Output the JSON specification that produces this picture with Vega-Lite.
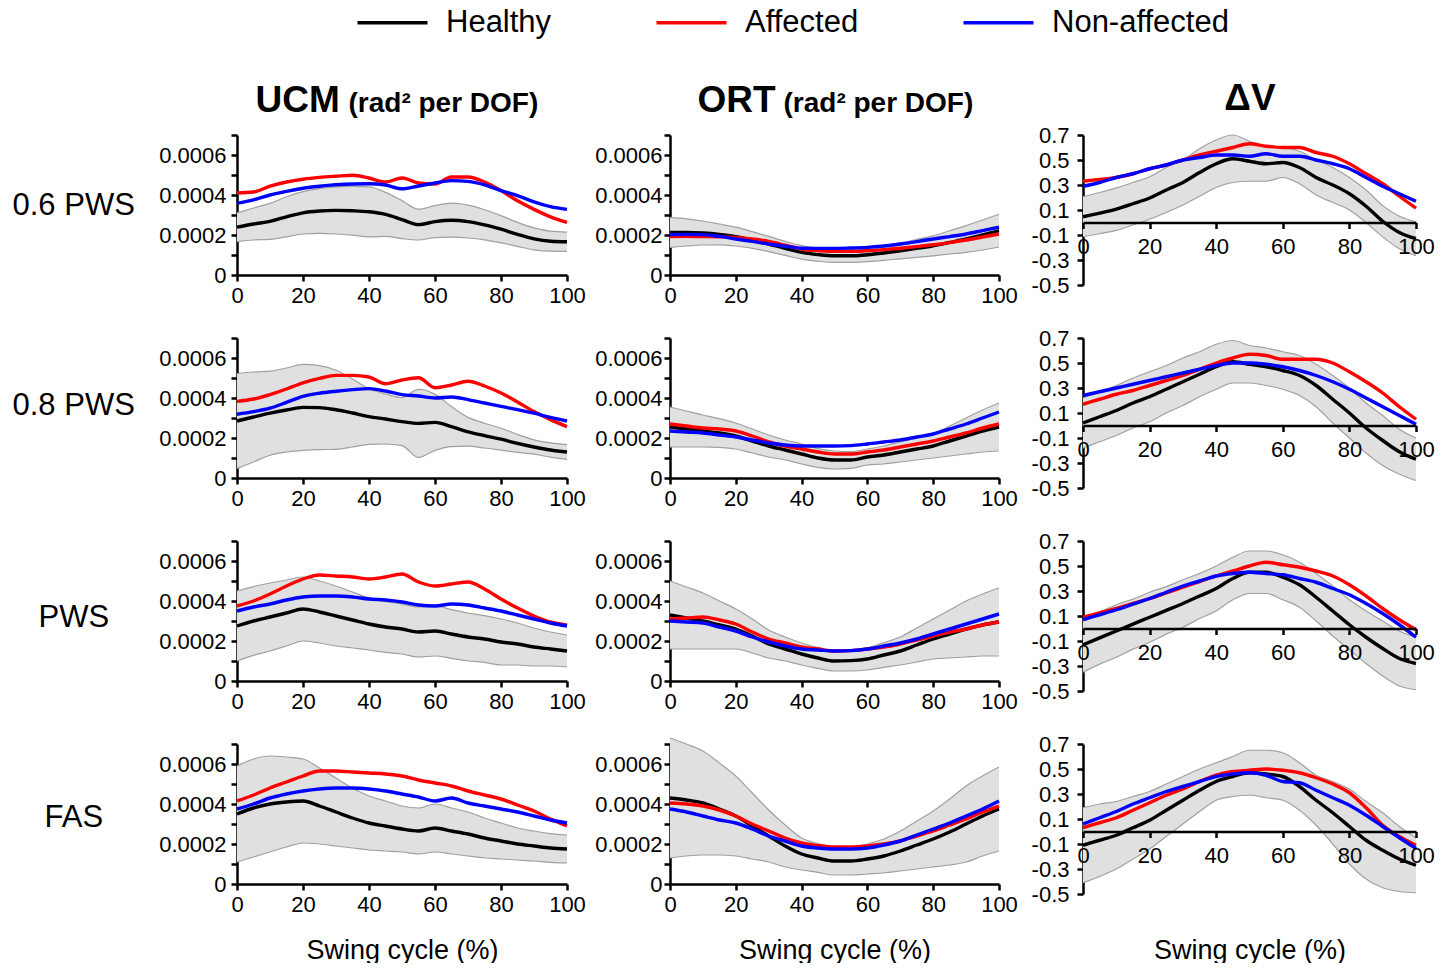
{
"$schema": "https://vega.github.io/schema/vega-lite/v6.json",
"background": "white",
"padding": {"left": 12, "top": 7, "right": 0, "bottom": 0},
"datasets": {
"u1": [
{"x":0,"H":2.39e-4,"sd":0.72e-4,"A":4.10e-4,"N":3.59e-4},
{"x":5,"H":2.55e-4,"sd":0.80e-4,"A":4.15e-4,"N":3.76e-4},
{"x":10,"H":2.68e-4,"sd":0.90e-4,"A":4.44e-4,"N":4.00e-4},
{"x":15,"H":2.91e-4,"sd":1.00e-4,"A":4.65e-4,"N":4.18e-4},
{"x":20,"H":3.11e-4,"sd":1.06e-4,"A":4.79e-4,"N":4.34e-4},
{"x":25,"H":3.20e-4,"sd":1.12e-4,"A":4.88e-4,"N":4.44e-4},
{"x":30,"H":3.23e-4,"sd":1.18e-4,"A":4.94e-4,"N":4.51e-4},
{"x":35,"H":3.21e-4,"sd":1.22e-4,"A":4.99e-4,"N":4.55e-4},
{"x":40,"H":3.16e-4,"sd":1.25e-4,"A":4.85e-4,"N":4.56e-4},
{"x":45,"H":3.03e-4,"sd":1.10e-4,"A":4.65e-4,"N":4.50e-4},
{"x":50,"H":2.77e-4,"sd":0.95e-4,"A":4.85e-4,"N":4.31e-4},
{"x":55,"H":2.52e-4,"sd":0.77e-4,"A":4.60e-4,"N":4.45e-4},
{"x":60,"H":2.67e-4,"sd":0.80e-4,"A":4.55e-4,"N":4.60e-4},
{"x":65,"H":2.74e-4,"sd":0.85e-4,"A":4.90e-4,"N":4.72e-4},
{"x":70,"H":2.67e-4,"sd":0.82e-4,"A":4.90e-4,"N":4.68e-4},
{"x":75,"H":2.51e-4,"sd":0.75e-4,"A":4.65e-4,"N":4.51e-4},
{"x":80,"H":2.29e-4,"sd":0.68e-4,"A":4.22e-4,"N":4.22e-4},
{"x":85,"H":2.03e-4,"sd":0.60e-4,"A":3.71e-4,"N":3.97e-4},
{"x":90,"H":1.81e-4,"sd":0.55e-4,"A":3.28e-4,"N":3.66e-4},
{"x":95,"H":1.69e-4,"sd":0.50e-4,"A":2.91e-4,"N":3.42e-4},
{"x":100,"H":1.66e-4,"sd":0.48e-4,"A":2.63e-4,"N":3.28e-4}
],
"o1": [
{"x":0,"H":2.13e-4,"sd":0.75e-4,"A":1.92e-4,"N":2.02e-4},
{"x":5,"H":2.13e-4,"sd":0.68e-4,"A":1.93e-4,"N":2.03e-4},
{"x":10,"H":2.10e-4,"sd":0.60e-4,"A":1.92e-4,"N":2.02e-4},
{"x":15,"H":2.03e-4,"sd":0.52e-4,"A":1.91e-4,"N":1.93e-4},
{"x":20,"H":1.92e-4,"sd":0.47e-4,"A":1.88e-4,"N":1.80e-4},
{"x":25,"H":1.75e-4,"sd":0.42e-4,"A":1.80e-4,"N":1.68e-4},
{"x":30,"H":1.55e-4,"sd":0.38e-4,"A":1.68e-4,"N":1.55e-4},
{"x":35,"H":1.33e-4,"sd":0.35e-4,"A":1.49e-4,"N":1.44e-4},
{"x":40,"H":1.13e-4,"sd":0.34e-4,"A":1.29e-4,"N":1.34e-4},
{"x":45,"H":1.02e-4,"sd":0.33e-4,"A":1.22e-4,"N":1.33e-4},
{"x":50,"H":0.96e-4,"sd":0.33e-4,"A":1.18e-4,"N":1.33e-4},
{"x":55,"H":0.96e-4,"sd":0.33e-4,"A":1.18e-4,"N":1.35e-4},
{"x":60,"H":1.01e-4,"sd":0.34e-4,"A":1.21e-4,"N":1.38e-4},
{"x":65,"H":1.10e-4,"sd":0.37e-4,"A":1.27e-4,"N":1.45e-4},
{"x":70,"H":1.21e-4,"sd":0.40e-4,"A":1.34e-4,"N":1.55e-4},
{"x":75,"H":1.33e-4,"sd":0.45e-4,"A":1.42e-4,"N":1.67e-4},
{"x":80,"H":1.46e-4,"sd":0.50e-4,"A":1.51e-4,"N":1.80e-4},
{"x":85,"H":1.63e-4,"sd":0.58e-4,"A":1.62e-4,"N":1.92e-4},
{"x":90,"H":1.80e-4,"sd":0.67e-4,"A":1.75e-4,"N":2.05e-4},
{"x":95,"H":2.00e-4,"sd":0.75e-4,"A":1.90e-4,"N":2.22e-4},
{"x":100,"H":2.22e-4,"sd":0.82e-4,"A":2.05e-4,"N":2.39e-4}
],
"v1": [
{"x":0,"H":0.046,"sd":0.16,"A":0.33,"N":0.29},
{"x":5,"H":0.075,"sd":0.165,"A":0.345,"N":0.32},
{"x":10,"H":0.107,"sd":0.17,"A":0.36,"N":0.36},
{"x":15,"H":0.15,"sd":0.17,"A":0.39,"N":0.39},
{"x":20,"H":0.196,"sd":0.17,"A":0.43,"N":0.43},
{"x":25,"H":0.26,"sd":0.18,"A":0.46,"N":0.46},
{"x":30,"H":0.32,"sd":0.18,"A":0.50,"N":0.50},
{"x":35,"H":0.40,"sd":0.19,"A":0.54,"N":0.52},
{"x":40,"H":0.47,"sd":0.19,"A":0.57,"N":0.54},
{"x":45,"H":0.51,"sd":0.19,"A":0.60,"N":0.54},
{"x":50,"H":0.49,"sd":0.16,"A":0.63,"N":0.53},
{"x":55,"H":0.47,"sd":0.14,"A":0.61,"N":0.55},
{"x":60,"H":0.48,"sd":0.12,"A":0.60,"N":0.53},
{"x":65,"H":0.44,"sd":0.13,"A":0.60,"N":0.53},
{"x":70,"H":0.36,"sd":0.14,"A":0.56,"N":0.50},
{"x":75,"H":0.30,"sd":0.14,"A":0.53,"N":0.47},
{"x":80,"H":0.23,"sd":0.13,"A":0.47,"N":0.43},
{"x":85,"H":0.13,"sd":0.13,"A":0.39,"N":0.36},
{"x":90,"H":0.01,"sd":0.125,"A":0.31,"N":0.29},
{"x":95,"H":-0.08,"sd":0.13,"A":0.21,"N":0.23},
{"x":100,"H":-0.13,"sd":0.135,"A":0.115,"N":0.17}
],
"u2": [
{"x":0,"H":2.85e-4,"sd":2.37e-4,"A":3.83e-4,"N":3.19e-4},
{"x":5,"H":3.05e-4,"sd":2.25e-4,"A":3.95e-4,"N":3.32e-4},
{"x":10,"H":3.24e-4,"sd":2.10e-4,"A":4.17e-4,"N":3.49e-4},
{"x":15,"H":3.40e-4,"sd":2.10e-4,"A":4.45e-4,"N":3.78e-4},
{"x":20,"H":3.53e-4,"sd":2.15e-4,"A":4.76e-4,"N":4.08e-4},
{"x":25,"H":3.52e-4,"sd":2.10e-4,"A":4.98e-4,"N":4.24e-4},
{"x":30,"H":3.41e-4,"sd":1.98e-4,"A":5.13e-4,"N":4.34e-4},
{"x":35,"H":3.25e-4,"sd":1.70e-4,"A":5.13e-4,"N":4.42e-4},
{"x":40,"H":3.07e-4,"sd":1.39e-4,"A":5.05e-4,"N":4.47e-4},
{"x":45,"H":2.95e-4,"sd":1.25e-4,"A":4.71e-4,"N":4.35e-4},
{"x":50,"H":2.82e-4,"sd":1.20e-4,"A":4.90e-4,"N":4.17e-4},
{"x":55,"H":2.73e-4,"sd":1.70e-4,"A":5.01e-4,"N":4.10e-4},
{"x":60,"H":2.78e-4,"sd":1.40e-4,"A":4.51e-4,"N":4.00e-4},
{"x":65,"H":2.57e-4,"sd":1.00e-4,"A":4.65e-4,"N":4.05e-4},
{"x":70,"H":2.31e-4,"sd":0.72e-4,"A":4.84e-4,"N":3.92e-4},
{"x":75,"H":2.12e-4,"sd":0.62e-4,"A":4.60e-4,"N":3.75e-4},
{"x":80,"H":1.94e-4,"sd":0.55e-4,"A":4.25e-4,"N":3.58e-4},
{"x":85,"H":1.73e-4,"sd":0.45e-4,"A":3.80e-4,"N":3.42e-4},
{"x":90,"H":1.55e-4,"sd":0.36e-4,"A":3.32e-4,"N":3.24e-4},
{"x":95,"H":1.40e-4,"sd":0.36e-4,"A":2.92e-4,"N":3.03e-4},
{"x":100,"H":1.30e-4,"sd":0.37e-4,"A":2.57e-4,"N":2.85e-4}
],
"o2": [
{"x":0,"H":2.55e-4,"sd":1.00e-4,"A":2.70e-4,"N":2.35e-4},
{"x":5,"H":2.45e-4,"sd":0.90e-4,"A":2.60e-4,"N":2.30e-4},
{"x":10,"H":2.35e-4,"sd":0.80e-4,"A":2.50e-4,"N":2.25e-4},
{"x":15,"H":2.25e-4,"sd":0.72e-4,"A":2.45e-4,"N":2.15e-4},
{"x":20,"H":2.10e-4,"sd":0.65e-4,"A":2.35e-4,"N":2.05e-4},
{"x":25,"H":1.85e-4,"sd":0.60e-4,"A":2.10e-4,"N":1.90e-4},
{"x":30,"H":1.60e-4,"sd":0.55e-4,"A":1.80e-4,"N":1.75e-4},
{"x":35,"H":1.40e-4,"sd":0.50e-4,"A":1.60e-4,"N":1.65e-4},
{"x":40,"H":1.20e-4,"sd":0.50e-4,"A":1.45e-4,"N":1.60e-4},
{"x":45,"H":1.00e-4,"sd":0.47e-4,"A":1.30e-4,"N":1.60e-4},
{"x":50,"H":0.90e-4,"sd":0.45e-4,"A":1.20e-4,"N":1.60e-4},
{"x":55,"H":0.90e-4,"sd":0.42e-4,"A":1.20e-4,"N":1.62e-4},
{"x":60,"H":1.05e-4,"sd":0.40e-4,"A":1.30e-4,"N":1.70e-4},
{"x":65,"H":1.15e-4,"sd":0.45e-4,"A":1.40e-4,"N":1.80e-4},
{"x":70,"H":1.30e-4,"sd":0.50e-4,"A":1.55e-4,"N":1.90e-4},
{"x":75,"H":1.45e-4,"sd":0.55e-4,"A":1.70e-4,"N":2.05e-4},
{"x":80,"H":1.60e-4,"sd":0.60e-4,"A":1.85e-4,"N":2.20e-4},
{"x":85,"H":1.85e-4,"sd":0.75e-4,"A":2.05e-4,"N":2.45e-4},
{"x":90,"H":2.10e-4,"sd":0.90e-4,"A":2.25e-4,"N":2.70e-4},
{"x":95,"H":2.35e-4,"sd":1.05e-4,"A":2.50e-4,"N":3.00e-4},
{"x":100,"H":2.55e-4,"sd":1.20e-4,"A":2.70e-4,"N":3.30e-4}
],
"v2": [
{"x":0,"H":0.02,"sd":0.20,"A":0.17,"N":0.24},
{"x":5,"H":0.07,"sd":0.20,"A":0.21,"N":0.27},
{"x":10,"H":0.12,"sd":0.20,"A":0.25,"N":0.30},
{"x":15,"H":0.18,"sd":0.20,"A":0.28,"N":0.33},
{"x":20,"H":0.23,"sd":0.20,"A":0.32,"N":0.36},
{"x":25,"H":0.29,"sd":0.19,"A":0.36,"N":0.39},
{"x":30,"H":0.35,"sd":0.19,"A":0.40,"N":0.42},
{"x":35,"H":0.41,"sd":0.18,"A":0.45,"N":0.45},
{"x":40,"H":0.47,"sd":0.18,"A":0.50,"N":0.48},
{"x":45,"H":0.51,"sd":0.17,"A":0.54,"N":0.50},
{"x":50,"H":0.49,"sd":0.15,"A":0.57,"N":0.50},
{"x":55,"H":0.47,"sd":0.15,"A":0.56,"N":0.49},
{"x":60,"H":0.44,"sd":0.15,"A":0.53,"N":0.47},
{"x":65,"H":0.40,"sd":0.16,"A":0.53,"N":0.44},
{"x":70,"H":0.32,"sd":0.17,"A":0.53,"N":0.40},
{"x":75,"H":0.21,"sd":0.19,"A":0.50,"N":0.35},
{"x":80,"H":0.10,"sd":0.20,"A":0.43,"N":0.29},
{"x":85,"H":-0.02,"sd":0.20,"A":0.35,"N":0.22},
{"x":90,"H":-0.12,"sd":0.20,"A":0.26,"N":0.15},
{"x":95,"H":-0.21,"sd":0.18,"A":0.15,"N":0.08},
{"x":100,"H":-0.27,"sd":0.17,"A":0.05,"N":0.01}
],
"u3": [
{"x":0,"H":2.75e-4,"sd":1.75e-4,"A":3.75e-4,"N":3.50e-4},
{"x":5,"H":3.00e-4,"sd":1.72e-4,"A":4.00e-4,"N":3.70e-4},
{"x":10,"H":3.20e-4,"sd":1.70e-4,"A":4.35e-4,"N":3.85e-4},
{"x":15,"H":3.40e-4,"sd":1.65e-4,"A":4.75e-4,"N":4.05e-4},
{"x":20,"H":3.60e-4,"sd":1.60e-4,"A":5.10e-4,"N":4.20e-4},
{"x":25,"H":3.45e-4,"sd":1.55e-4,"A":5.30e-4,"N":4.25e-4},
{"x":30,"H":3.25e-4,"sd":1.50e-4,"A":5.25e-4,"N":4.25e-4},
{"x":35,"H":3.05e-4,"sd":1.40e-4,"A":5.20e-4,"N":4.20e-4},
{"x":40,"H":2.85e-4,"sd":1.30e-4,"A":5.10e-4,"N":4.10e-4},
{"x":45,"H":2.70e-4,"sd":1.27e-4,"A":5.20e-4,"N":4.05e-4},
{"x":50,"H":2.60e-4,"sd":1.25e-4,"A":5.35e-4,"N":3.95e-4},
{"x":55,"H":2.45e-4,"sd":1.25e-4,"A":4.95e-4,"N":3.80e-4},
{"x":60,"H":2.50e-4,"sd":1.25e-4,"A":4.75e-4,"N":3.75e-4},
{"x":65,"H":2.35e-4,"sd":1.22e-4,"A":4.85e-4,"N":3.85e-4},
{"x":70,"H":2.20e-4,"sd":1.20e-4,"A":4.95e-4,"N":3.80e-4},
{"x":75,"H":2.10e-4,"sd":1.17e-4,"A":4.60e-4,"N":3.65e-4},
{"x":80,"H":1.95e-4,"sd":1.15e-4,"A":4.10e-4,"N":3.50e-4},
{"x":85,"H":1.85e-4,"sd":1.05e-4,"A":3.65e-4,"N":3.30e-4},
{"x":90,"H":1.70e-4,"sd":0.95e-4,"A":3.25e-4,"N":3.10e-4},
{"x":95,"H":1.60e-4,"sd":0.85e-4,"A":2.95e-4,"N":2.90e-4},
{"x":100,"H":1.50e-4,"sd":0.80e-4,"A":2.80e-4,"N":2.75e-4}
],
"o3": [
{"x":0,"H":3.30e-4,"sd":1.70e-4,"A":3.10e-4,"N":3.00e-4},
{"x":5,"H":3.15e-4,"sd":1.55e-4,"A":3.15e-4,"N":2.95e-4},
{"x":10,"H":3.00e-4,"sd":1.40e-4,"A":3.20e-4,"N":2.90e-4},
{"x":15,"H":2.80e-4,"sd":1.20e-4,"A":3.05e-4,"N":2.70e-4},
{"x":20,"H":2.60e-4,"sd":1.00e-4,"A":2.85e-4,"N":2.50e-4},
{"x":25,"H":2.25e-4,"sd":0.85e-4,"A":2.45e-4,"N":2.20e-4},
{"x":30,"H":1.85e-4,"sd":0.70e-4,"A":2.10e-4,"N":1.95e-4},
{"x":35,"H":1.60e-4,"sd":0.60e-4,"A":1.90e-4,"N":1.75e-4},
{"x":40,"H":1.35e-4,"sd":0.55e-4,"A":1.70e-4,"N":1.60e-4},
{"x":45,"H":1.15e-4,"sd":0.52e-4,"A":1.60e-4,"N":1.55e-4},
{"x":50,"H":1.00e-4,"sd":0.50e-4,"A":1.50e-4,"N":1.50e-4},
{"x":55,"H":1.02e-4,"sd":0.52e-4,"A":1.52e-4,"N":1.52e-4},
{"x":60,"H":1.10e-4,"sd":0.55e-4,"A":1.60e-4,"N":1.60e-4},
{"x":65,"H":1.30e-4,"sd":0.62e-4,"A":1.70e-4,"N":1.75e-4},
{"x":70,"H":1.50e-4,"sd":0.70e-4,"A":1.85e-4,"N":1.90e-4},
{"x":75,"H":1.80e-4,"sd":0.85e-4,"A":2.05e-4,"N":2.10e-4},
{"x":80,"H":2.10e-4,"sd":1.00e-4,"A":2.25e-4,"N":2.35e-4},
{"x":85,"H":2.35e-4,"sd":1.20e-4,"A":2.45e-4,"N":2.60e-4},
{"x":90,"H":2.60e-4,"sd":1.40e-4,"A":2.60e-4,"N":2.85e-4},
{"x":95,"H":2.80e-4,"sd":1.55e-4,"A":2.80e-4,"N":3.10e-4},
{"x":100,"H":2.95e-4,"sd":1.70e-4,"A":2.95e-4,"N":3.35e-4}
],
"v3": [
{"x":0,"H":-0.13,"sd":0.22,"A":0.09,"N":0.07},
{"x":5,"H":-0.075,"sd":0.21,"A":0.125,"N":0.11},
{"x":10,"H":-0.02,"sd":0.21,"A":0.16,"N":0.15},
{"x":15,"H":0.035,"sd":0.20,"A":0.20,"N":0.195},
{"x":20,"H":0.09,"sd":0.20,"A":0.24,"N":0.24},
{"x":25,"H":0.145,"sd":0.19,"A":0.285,"N":0.29},
{"x":30,"H":0.20,"sd":0.19,"A":0.33,"N":0.34},
{"x":35,"H":0.26,"sd":0.18,"A":0.375,"N":0.38},
{"x":40,"H":0.32,"sd":0.18,"A":0.42,"N":0.42},
{"x":45,"H":0.40,"sd":0.17,"A":0.46,"N":0.44},
{"x":50,"H":0.45,"sd":0.17,"A":0.50,"N":0.45},
{"x":55,"H":0.45,"sd":0.17,"A":0.53,"N":0.44},
{"x":60,"H":0.41,"sd":0.18,"A":0.51,"N":0.43},
{"x":65,"H":0.35,"sd":0.18,"A":0.49,"N":0.40},
{"x":70,"H":0.25,"sd":0.19,"A":0.46,"N":0.37},
{"x":75,"H":0.14,"sd":0.20,"A":0.42,"N":0.32},
{"x":80,"H":0.03,"sd":0.20,"A":0.35,"N":0.27},
{"x":85,"H":-0.07,"sd":0.21,"A":0.26,"N":0.20},
{"x":90,"H":-0.16,"sd":0.22,"A":0.16,"N":0.12},
{"x":95,"H":-0.24,"sd":0.22,"A":0.07,"N":0.03},
{"x":100,"H":-0.28,"sd":0.21,"A":-0.01,"N":-0.07}
],
"u4": [
{"x":0,"H":3.50e-4,"sd":2.40e-4,"A":4.15e-4,"N":3.75e-4},
{"x":5,"H":3.80e-4,"sd":2.45e-4,"A":4.45e-4,"N":4.00e-4},
{"x":10,"H":4.00e-4,"sd":2.40e-4,"A":4.80e-4,"N":4.30e-4},
{"x":15,"H":4.10e-4,"sd":2.25e-4,"A":5.10e-4,"N":4.50e-4},
{"x":20,"H":4.15e-4,"sd":2.10e-4,"A":5.40e-4,"N":4.65e-4},
{"x":25,"H":3.90e-4,"sd":1.90e-4,"A":5.65e-4,"N":4.75e-4},
{"x":30,"H":3.60e-4,"sd":1.70e-4,"A":5.65e-4,"N":4.80e-4},
{"x":35,"H":3.30e-4,"sd":1.50e-4,"A":5.60e-4,"N":4.80e-4},
{"x":40,"H":3.05e-4,"sd":1.35e-4,"A":5.55e-4,"N":4.75e-4},
{"x":45,"H":2.90e-4,"sd":1.25e-4,"A":5.50e-4,"N":4.65e-4},
{"x":50,"H":2.75e-4,"sd":1.15e-4,"A":5.40e-4,"N":4.50e-4},
{"x":55,"H":2.65e-4,"sd":1.15e-4,"A":5.20e-4,"N":4.35e-4},
{"x":60,"H":2.80e-4,"sd":1.20e-4,"A":5.05e-4,"N":4.15e-4},
{"x":65,"H":2.65e-4,"sd":1.15e-4,"A":4.90e-4,"N":4.30e-4},
{"x":70,"H":2.50e-4,"sd":1.10e-4,"A":4.65e-4,"N":4.05e-4},
{"x":75,"H":2.30e-4,"sd":1.00e-4,"A":4.45e-4,"N":3.90e-4},
{"x":80,"H":2.15e-4,"sd":0.90e-4,"A":4.25e-4,"N":3.75e-4},
{"x":85,"H":2.00e-4,"sd":0.80e-4,"A":3.95e-4,"N":3.60e-4},
{"x":90,"H":1.90e-4,"sd":0.75e-4,"A":3.65e-4,"N":3.40e-4},
{"x":95,"H":1.80e-4,"sd":0.72e-4,"A":3.25e-4,"N":3.20e-4},
{"x":100,"H":1.75e-4,"sd":0.70e-4,"A":2.90e-4,"N":3.05e-4}
],
"o4": [
{"x":0,"H":4.30e-4,"sd":3.00e-4,"A":4.05e-4,"N":3.75e-4},
{"x":5,"H":4.20e-4,"sd":2.80e-4,"A":4.00e-4,"N":3.60e-4},
{"x":10,"H":4.05e-4,"sd":2.60e-4,"A":3.90e-4,"N":3.40e-4},
{"x":15,"H":3.75e-4,"sd":2.30e-4,"A":3.70e-4,"N":3.20e-4},
{"x":20,"H":3.40e-4,"sd":2.00e-4,"A":3.40e-4,"N":3.05e-4},
{"x":25,"H":2.90e-4,"sd":1.65e-4,"A":3.00e-4,"N":2.75e-4},
{"x":30,"H":2.40e-4,"sd":1.30e-4,"A":2.65e-4,"N":2.40e-4},
{"x":35,"H":1.90e-4,"sd":1.05e-4,"A":2.30e-4,"N":2.15e-4},
{"x":40,"H":1.50e-4,"sd":0.80e-4,"A":2.05e-4,"N":1.90e-4},
{"x":45,"H":1.30e-4,"sd":0.72e-4,"A":1.92e-4,"N":1.80e-4},
{"x":50,"H":1.15e-4,"sd":0.70e-4,"A":1.85e-4,"N":1.75e-4},
{"x":55,"H":1.15e-4,"sd":0.70e-4,"A":1.85e-4,"N":1.75e-4},
{"x":60,"H":1.25e-4,"sd":0.75e-4,"A":1.90e-4,"N":1.80e-4},
{"x":65,"H":1.40e-4,"sd":0.85e-4,"A":2.00e-4,"N":1.95e-4},
{"x":70,"H":1.65e-4,"sd":1.00e-4,"A":2.15e-4,"N":2.15e-4},
{"x":75,"H":1.95e-4,"sd":1.20e-4,"A":2.40e-4,"N":2.45e-4},
{"x":80,"H":2.25e-4,"sd":1.40e-4,"A":2.65e-4,"N":2.75e-4},
{"x":85,"H":2.60e-4,"sd":1.65e-4,"A":2.95e-4,"N":3.05e-4},
{"x":90,"H":3.00e-4,"sd":1.90e-4,"A":3.25e-4,"N":3.40e-4},
{"x":95,"H":3.40e-4,"sd":2.00e-4,"A":3.60e-4,"N":3.75e-4},
{"x":100,"H":3.75e-4,"sd":2.10e-4,"A":3.90e-4,"N":4.15e-4}
],
"v4": [
{"x":0,"H":-0.11,"sd":0.30,"A":0.03,"N":0.06},
{"x":5,"H":-0.07,"sd":0.29,"A":0.07,"N":0.11},
{"x":10,"H":-0.03,"sd":0.27,"A":0.11,"N":0.16},
{"x":15,"H":0.03,"sd":0.25,"A":0.17,"N":0.22},
{"x":20,"H":0.09,"sd":0.23,"A":0.23,"N":0.27},
{"x":25,"H":0.17,"sd":0.21,"A":0.29,"N":0.32},
{"x":30,"H":0.25,"sd":0.19,"A":0.34,"N":0.36},
{"x":35,"H":0.33,"sd":0.17,"A":0.40,"N":0.40},
{"x":40,"H":0.40,"sd":0.15,"A":0.45,"N":0.44},
{"x":45,"H":0.44,"sd":0.16,"A":0.48,"N":0.46},
{"x":50,"H":0.47,"sd":0.18,"A":0.49,"N":0.47},
{"x":55,"H":0.46,"sd":0.19,"A":0.50,"N":0.45},
{"x":60,"H":0.44,"sd":0.19,"A":0.49,"N":0.40},
{"x":65,"H":0.36,"sd":0.19,"A":0.47,"N":0.39},
{"x":70,"H":0.25,"sd":0.20,"A":0.43,"N":0.33},
{"x":75,"H":0.15,"sd":0.25,"A":0.38,"N":0.27},
{"x":80,"H":0.04,"sd":0.30,"A":0.31,"N":0.21},
{"x":85,"H":-0.07,"sd":0.31,"A":0.19,"N":0.13},
{"x":90,"H":-0.15,"sd":0.30,"A":0.05,"N":0.04},
{"x":95,"H":-0.22,"sd":0.26,"A":-0.04,"N":-0.05},
{"x":100,"H":-0.27,"sd":0.22,"A":-0.11,"N":-0.135}
]
},
"columns": 3,
"spacing": {"row": 53, "column": 84},
"bounds": "flush",
"concat": [
{"width":330,"height":140,"data":{"name":"u1"},
"transform":[{"fold":["H","A","N"],"as":["g","v"]}],
"encoding":{"y":{"field":"v","type":"quantitative","scale":{"domain":[0,0.0007],"nice":false},"axis":{"values":[0,0.0001,0.0002,0.0003,0.0004,0.0005,0.0006,0.0007],"labelExpr":"datum.value==0?'0':(round(datum.value*10000)%2==0?format(datum.value,'.4f'):'')","labelPadding":5,"title":"0.6 PWS","titleX":-225,"titleY":70,"titleAngle":0,"titleAlign":"left","titleBaseline":"middle","titleFontSize":31}}},
"layer":[
{"transform":[{"filter":"datum.g=='H'"}],"mark":"errorband","encoding":{"x":{"field":"x","type":"quantitative","scale":{"domain":[0,100],"nice":false},"axis":{"values":[0,20,40,60,80,100],"labelPadding":14,"zindex":1,"title":null}},"yError":{"field":"sd"}}},
{"transform":[{"filter":"datum.g=='H'"}],"mark":"line","encoding":{"x":{"field":"x","type":"quantitative","scale":{"domain":[0,100],"nice":false},"axis":{"orient":"top","domain":false,"ticks":false,"labels":false,"title":"UCM","titleFontSize":37,"titleFontWeight":"bold","titleAlign":"left","titleBaseline":"alphabetic","titleX":18,"titleY":-24}},
"color":{"field":"g","type":"nominal","scale":{"domain":["H","A","N"],"range":["#000000","#ff0000","#0000ff"]},"legend":{"title":null,"orient":"none","legendX":140,"legendY":-128,"direction":"horizontal","labelExpr":"datum.label=='H'?'Healthy':(datum.label=='A'?'Affected':'Non-affected')"}}}},
{"transform":[{"filter":"datum.g!='H'"}],"mark":"line","encoding":{"x":{"field":"x","type":"quantitative","scale":{"domain":[0,100],"nice":false},"axis":{"orient":"top","domain":false,"ticks":false,"labels":false,"title":"(rad² per DOF)","titleFontSize":28,"titleFontWeight":"bold","titleAlign":"left","titleBaseline":"alphabetic","titleX":111,"titleY":-24}},
"color":{"field":"g","type":"nominal","scale":{"domain":["H","A","N"],"range":["#000000","#ff0000","#0000ff"]},"legend":{"title":null,"orient":"none","legendX":140,"legendY":-128,"direction":"horizontal","labelExpr":"datum.label=='H'?'Healthy':(datum.label=='A'?'Affected':'Non-affected')"}}}}
],
"resolve":{"axis":{"x":"independent"}}},

{"width":348,"height":140,"data":{"name":"o1"},
"transform":[{"fold":["H","A","N"],"as":["g","v"]}],
"encoding":{"y":{"field":"v","type":"quantitative","scale":{"domain":[0,0.0007],"nice":false},"axis":{"values":[0,0.0001,0.0002,0.0003,0.0004,0.0005,0.0006,0.0007],"labelExpr":"datum.value==0?'0':(round(datum.value*10000)%2==0?format(datum.value,'.4f'):'')","labelPadding":2,"offset":-19,"title":null}}},
"layer":[
{"transform":[{"filter":"datum.g=='H'"}],"mark":"errorband","encoding":{"x":{"field":"x","type":"quantitative","scale":{"domain":[0,100],"nice":false,"range":[19,348]},"axis":{"values":[0,20,40,60,80,100],"labelPadding":14,"zindex":1,"title":null}},"yError":{"field":"sd"}}},
{"transform":[{"filter":"datum.g=='H'"}],"mark":"line","encoding":{"x":{"field":"x","type":"quantitative","scale":{"domain":[0,100],"nice":false,"range":[19,348]},"axis":{"orient":"top","domain":false,"ticks":false,"labels":false,"title":"ORT","titleFontSize":37,"titleFontWeight":"bold","titleAlign":"left","titleBaseline":"alphabetic","titleX":46,"titleY":-24}},
"color":{"field":"g","type":"nominal","scale":{"domain":["H","A","N"],"range":["#000000","#ff0000","#0000ff"]},"legend":{"title":null,"orient":"none","legendX":140,"legendY":-128,"direction":"horizontal","labelExpr":"datum.label=='H'?'Healthy':(datum.label=='A'?'Affected':'Non-affected')"}}}},
{"transform":[{"filter":"datum.g!='H'"}],"mark":"line","encoding":{"x":{"field":"x","type":"quantitative","scale":{"domain":[0,100],"nice":false,"range":[19,348]},"axis":{"orient":"top","domain":false,"ticks":false,"labels":false,"title":"(rad² per DOF)","titleFontSize":28,"titleFontWeight":"bold","titleAlign":"left","titleBaseline":"alphabetic","titleX":132,"titleY":-24}},
"color":{"field":"g","type":"nominal","scale":{"domain":["H","A","N"],"range":["#000000","#ff0000","#0000ff"]},"legend":{"title":null,"orient":"none","legendX":140,"legendY":-128,"direction":"horizontal","labelExpr":"datum.label=='H'?'Healthy':(datum.label=='A'?'Affected':'Non-affected')"}}}}
],
"resolve":{"axis":{"x":"independent"}}},

{"width":333,"height":150,"data":{"name":"v1"},
"transform":[{"fold":["H","A","N"],"as":["g","v"]}],
"encoding":{"y":{"field":"v","type":"quantitative","scale":{"domain":[-0.5,0.7],"nice":false},"axis":{"values":[-0.5,-0.3,-0.1,0.1,0.3,0.5,0.7],"labelExpr":"''+datum.value","labelPadding":8,"title":null}}},
"layer":[
{"transform":[{"filter":"datum.g=='H'"}],"mark":"errorband","encoding":{"x":{"field":"x","type":"quantitative","scale":{"domain":[0,100],"nice":false},"axis":{"values":[0,20,40,60,80,100],"labelPadding":18,"offset":-62.5,"zindex":1,"title":null}},"yError":{"field":"sd"}}},
{"mark":"line","encoding":{"x":{"field":"x","type":"quantitative","scale":{"domain":[0,100],"nice":false},"axis":{"orient":"top","domain":false,"ticks":false,"labels":false,"title":"ΔV","titleFontSize":37,"titleFontWeight":"bold","titleAlign":"center","titleBaseline":"alphabetic","titleX":166.5,"titleY":-26}},
"color":{"field":"g","type":"nominal","scale":{"domain":["H","A","N"],"range":["#000000","#ff0000","#0000ff"]},"legend":{"title":null,"orient":"none","legendX":140,"legendY":-128,"direction":"horizontal","labelExpr":"datum.label=='H'?'Healthy':(datum.label=='A'?'Affected':'Non-affected')"}}}}
],
"resolve":{"axis":{"x":"independent"}}},

{"width":330,"height":140,"data":{"name":"u2"},
"transform":[{"fold":["H","A","N"],"as":["g","v"]}],
"encoding":{"y":{"field":"v","type":"quantitative","scale":{"domain":[0,0.0007],"nice":false},"axis":{"values":[0,0.0001,0.0002,0.0003,0.0004,0.0005,0.0006,0.0007],"labelExpr":"datum.value==0?'0':(round(datum.value*10000)%2==0?format(datum.value,'.4f'):'')","labelPadding":5,"title":"0.8 PWS","titleX":-225,"titleY":67,"titleAngle":0,"titleAlign":"left","titleBaseline":"middle","titleFontSize":31}}},
"layer":[
{"transform":[{"filter":"datum.g=='H'"}],"mark":"errorband","encoding":{"x":{"field":"x","type":"quantitative","scale":{"domain":[0,100],"nice":false},"axis":{"values":[0,20,40,60,80,100],"labelPadding":14,"zindex":1,"title":null}},"yError":{"field":"sd"}}},
{"mark":"line","encoding":{"x":{"field":"x","type":"quantitative","scale":{"domain":[0,100],"nice":false},"axis":null},
"color":{"field":"g","type":"nominal","scale":{"domain":["H","A","N"],"range":["#000000","#ff0000","#0000ff"]},"legend":{"title":null,"orient":"none","legendX":140,"legendY":-128,"direction":"horizontal","labelExpr":"datum.label=='H'?'Healthy':(datum.label=='A'?'Affected':'Non-affected')"}}}}
],
"resolve":{"axis":{"x":"independent"}}},

{"width":348,"height":140,"data":{"name":"o2"},
"transform":[{"fold":["H","A","N"],"as":["g","v"]}],
"encoding":{"y":{"field":"v","type":"quantitative","scale":{"domain":[0,0.0007],"nice":false},"axis":{"values":[0,0.0001,0.0002,0.0003,0.0004,0.0005,0.0006,0.0007],"labelExpr":"datum.value==0?'0':(round(datum.value*10000)%2==0?format(datum.value,'.4f'):'')","labelPadding":2,"offset":-19,"title":null}}},
"layer":[
{"transform":[{"filter":"datum.g=='H'"}],"mark":"errorband","encoding":{"x":{"field":"x","type":"quantitative","scale":{"domain":[0,100],"nice":false,"range":[19,348]},"axis":{"values":[0,20,40,60,80,100],"labelPadding":14,"zindex":1,"title":null}},"yError":{"field":"sd"}}},
{"mark":"line","encoding":{"x":{"field":"x","type":"quantitative","scale":{"domain":[0,100],"nice":false,"range":[19,348]},"axis":null},
"color":{"field":"g","type":"nominal","scale":{"domain":["H","A","N"],"range":["#000000","#ff0000","#0000ff"]},"legend":{"title":null,"orient":"none","legendX":140,"legendY":-128,"direction":"horizontal","labelExpr":"datum.label=='H'?'Healthy':(datum.label=='A'?'Affected':'Non-affected')"}}}}
],
"resolve":{"axis":{"x":"independent"}}},

{"width":333,"height":150,"data":{"name":"v2"},
"transform":[{"fold":["H","A","N"],"as":["g","v"]}],
"encoding":{"y":{"field":"v","type":"quantitative","scale":{"domain":[-0.5,0.7],"nice":false},"axis":{"values":[-0.5,-0.3,-0.1,0.1,0.3,0.5,0.7],"labelExpr":"''+datum.value","labelPadding":8,"title":null}}},
"layer":[
{"transform":[{"filter":"datum.g=='H'"}],"mark":"errorband","encoding":{"x":{"field":"x","type":"quantitative","scale":{"domain":[0,100],"nice":false},"axis":{"values":[0,20,40,60,80,100],"labelPadding":18,"offset":-62.5,"zindex":1,"title":null}},"yError":{"field":"sd"}}},
{"mark":"line","encoding":{"x":{"field":"x","type":"quantitative","scale":{"domain":[0,100],"nice":false},"axis":null},
"color":{"field":"g","type":"nominal","scale":{"domain":["H","A","N"],"range":["#000000","#ff0000","#0000ff"]},"legend":{"title":null,"orient":"none","legendX":140,"legendY":-128,"direction":"horizontal","labelExpr":"datum.label=='H'?'Healthy':(datum.label=='A'?'Affected':'Non-affected')"}}}}
],
"resolve":{"axis":{"x":"independent"}}},

{"width":330,"height":140,"data":{"name":"u3"},
"transform":[{"fold":["H","A","N"],"as":["g","v"]}],
"encoding":{"y":{"field":"v","type":"quantitative","scale":{"domain":[0,0.0007],"nice":false},"axis":{"values":[0,0.0001,0.0002,0.0003,0.0004,0.0005,0.0006,0.0007],"labelExpr":"datum.value==0?'0':(round(datum.value*10000)%2==0?format(datum.value,'.4f'):'')","labelPadding":5,"title":"PWS","titleX":-199,"titleY":76,"titleAngle":0,"titleAlign":"left","titleBaseline":"middle","titleFontSize":31}}},
"layer":[
{"transform":[{"filter":"datum.g=='H'"}],"mark":"errorband","encoding":{"x":{"field":"x","type":"quantitative","scale":{"domain":[0,100],"nice":false},"axis":{"values":[0,20,40,60,80,100],"labelPadding":14,"zindex":1,"title":null}},"yError":{"field":"sd"}}},
{"mark":"line","encoding":{"x":{"field":"x","type":"quantitative","scale":{"domain":[0,100],"nice":false},"axis":null},
"color":{"field":"g","type":"nominal","scale":{"domain":["H","A","N"],"range":["#000000","#ff0000","#0000ff"]},"legend":{"title":null,"orient":"none","legendX":140,"legendY":-128,"direction":"horizontal","labelExpr":"datum.label=='H'?'Healthy':(datum.label=='A'?'Affected':'Non-affected')"}}}}
],
"resolve":{"axis":{"x":"independent"}}},

{"width":348,"height":140,"data":{"name":"o3"},
"transform":[{"fold":["H","A","N"],"as":["g","v"]}],
"encoding":{"y":{"field":"v","type":"quantitative","scale":{"domain":[0,0.0007],"nice":false},"axis":{"values":[0,0.0001,0.0002,0.0003,0.0004,0.0005,0.0006,0.0007],"labelExpr":"datum.value==0?'0':(round(datum.value*10000)%2==0?format(datum.value,'.4f'):'')","labelPadding":2,"offset":-19,"title":null}}},
"layer":[
{"transform":[{"filter":"datum.g=='H'"}],"mark":"errorband","encoding":{"x":{"field":"x","type":"quantitative","scale":{"domain":[0,100],"nice":false,"range":[19,348]},"axis":{"values":[0,20,40,60,80,100],"labelPadding":14,"zindex":1,"title":null}},"yError":{"field":"sd"}}},
{"mark":"line","encoding":{"x":{"field":"x","type":"quantitative","scale":{"domain":[0,100],"nice":false,"range":[19,348]},"axis":null},
"color":{"field":"g","type":"nominal","scale":{"domain":["H","A","N"],"range":["#000000","#ff0000","#0000ff"]},"legend":{"title":null,"orient":"none","legendX":140,"legendY":-128,"direction":"horizontal","labelExpr":"datum.label=='H'?'Healthy':(datum.label=='A'?'Affected':'Non-affected')"}}}}
],
"resolve":{"axis":{"x":"independent"}}},

{"width":333,"height":150,"data":{"name":"v3"},
"transform":[{"fold":["H","A","N"],"as":["g","v"]}],
"encoding":{"y":{"field":"v","type":"quantitative","scale":{"domain":[-0.5,0.7],"nice":false},"axis":{"values":[-0.5,-0.3,-0.1,0.1,0.3,0.5,0.7],"labelExpr":"''+datum.value","labelPadding":8,"title":null}}},
"layer":[
{"transform":[{"filter":"datum.g=='H'"}],"mark":"errorband","encoding":{"x":{"field":"x","type":"quantitative","scale":{"domain":[0,100],"nice":false},"axis":{"values":[0,20,40,60,80,100],"labelPadding":18,"offset":-62.5,"zindex":1,"title":null}},"yError":{"field":"sd"}}},
{"mark":"line","encoding":{"x":{"field":"x","type":"quantitative","scale":{"domain":[0,100],"nice":false},"axis":null},
"color":{"field":"g","type":"nominal","scale":{"domain":["H","A","N"],"range":["#000000","#ff0000","#0000ff"]},"legend":{"title":null,"orient":"none","legendX":140,"legendY":-128,"direction":"horizontal","labelExpr":"datum.label=='H'?'Healthy':(datum.label=='A'?'Affected':'Non-affected')"}}}}
],
"resolve":{"axis":{"x":"independent"}}},

{"width":330,"height":140,"data":{"name":"u4"},
"transform":[{"fold":["H","A","N"],"as":["g","v"]}],
"encoding":{"y":{"field":"v","type":"quantitative","scale":{"domain":[0,0.0007],"nice":false},"axis":{"values":[0,0.0001,0.0002,0.0003,0.0004,0.0005,0.0006,0.0007],"labelExpr":"datum.value==0?'0':(round(datum.value*10000)%2==0?format(datum.value,'.4f'):'')","labelPadding":5,"title":"FAS","titleX":-193,"titleY":73,"titleAngle":0,"titleAlign":"left","titleBaseline":"middle","titleFontSize":31}}},
"layer":[
{"transform":[{"filter":"datum.g=='H'"}],"mark":"errorband","encoding":{"x":{"field":"x","type":"quantitative","scale":{"domain":[0,100],"nice":false},"axis":{"values":[0,20,40,60,80,100],"labelPadding":14,"zindex":1,"title":"Swing cycle (%)","titleX":165,"titleY":74,"titleAlign":"center","titleBaseline":"alphabetic"}},"yError":{"field":"sd"}}},
{"mark":"line","encoding":{"x":{"field":"x","type":"quantitative","scale":{"domain":[0,100],"nice":false},"axis":null},
"color":{"field":"g","type":"nominal","scale":{"domain":["H","A","N"],"range":["#000000","#ff0000","#0000ff"]},"legend":{"title":null,"orient":"none","legendX":140,"legendY":-128,"direction":"horizontal","labelExpr":"datum.label=='H'?'Healthy':(datum.label=='A'?'Affected':'Non-affected')"}}}}
],
"resolve":{"axis":{"x":"independent"}}},

{"width":348,"height":140,"data":{"name":"o4"},
"transform":[{"fold":["H","A","N"],"as":["g","v"]}],
"encoding":{"y":{"field":"v","type":"quantitative","scale":{"domain":[0,0.0007],"nice":false},"axis":{"values":[0,0.0001,0.0002,0.0003,0.0004,0.0005,0.0006,0.0007],"labelExpr":"datum.value==0?'0':(round(datum.value*10000)%2==0?format(datum.value,'.4f'):'')","labelPadding":2,"offset":-19,"title":null}}},
"layer":[
{"transform":[{"filter":"datum.g=='H'"}],"mark":"errorband","encoding":{"x":{"field":"x","type":"quantitative","scale":{"domain":[0,100],"nice":false,"range":[19,348]},"axis":{"values":[0,20,40,60,80,100],"labelPadding":14,"zindex":1,"title":"Swing cycle (%)","titleX":183.5,"titleY":74,"titleAlign":"center","titleBaseline":"alphabetic"}},"yError":{"field":"sd"}}},
{"mark":"line","encoding":{"x":{"field":"x","type":"quantitative","scale":{"domain":[0,100],"nice":false,"range":[19,348]},"axis":null},
"color":{"field":"g","type":"nominal","scale":{"domain":["H","A","N"],"range":["#000000","#ff0000","#0000ff"]},"legend":{"title":null,"orient":"none","legendX":140,"legendY":-128,"direction":"horizontal","labelExpr":"datum.label=='H'?'Healthy':(datum.label=='A'?'Affected':'Non-affected')"}}}}
],
"resolve":{"axis":{"x":"independent"}}},

{"width":333,"height":150,"data":{"name":"v4"},
"transform":[{"fold":["H","A","N"],"as":["g","v"]}],
"encoding":{"y":{"field":"v","type":"quantitative","scale":{"domain":[-0.5,0.7],"nice":false},"axis":{"values":[-0.5,-0.3,-0.1,0.1,0.3,0.5,0.7],"labelExpr":"''+datum.value","labelPadding":8,"title":null}}},
"layer":[
{"transform":[{"filter":"datum.g=='H'"}],"mark":"errorband","encoding":{"x":{"field":"x","type":"quantitative","scale":{"domain":[0,100],"nice":false},"axis":{"values":[0,20,40,60,80,100],"labelPadding":18,"offset":-62.5,"zindex":1,"title":"Swing cycle (%)","titleX":166.5,"titleY":126.5,"titleAlign":"center","titleBaseline":"alphabetic"}},"yError":{"field":"sd"}}},
{"mark":"line","encoding":{"x":{"field":"x","type":"quantitative","scale":{"domain":[0,100],"nice":false},"axis":null},
"color":{"field":"g","type":"nominal","scale":{"domain":["H","A","N"],"range":["#000000","#ff0000","#0000ff"]},"legend":{"title":null,"orient":"none","legendX":140,"legendY":-128,"direction":"horizontal","labelExpr":"datum.label=='H'?'Healthy':(datum.label=='A'?'Affected':'Non-affected')"}}}}
],
"resolve":{"axis":{"x":"independent"}}}
],
"config": {
"font": "Liberation Sans",
"view": {"stroke": null},
"axis": {"domainColor":"#000000","domainWidth":2.5,"tickColor":"#000000","tickWidth":2.5,"tickSize":6,"labelFont":"Liberation Sans","labelFontSize":22,"labelColor":"#000000","grid":false,"titleFont":"Liberation Sans","titleColor":"#000000","titleFontWeight":"normal","titleFontSize":27,"labelOverlap":false,"labelFlush":false,"labelBound":false},
"axisX": {"labelBaseline":"middle"},
"legend": {"symbolType":"M-5,0H5","symbolSize":196,"symbolStrokeWidth":4,"labelFont":"Liberation Sans","labelFontSize":31,"labelColor":"#000000","labelOffset":38,"columnPadding":97,"padding":0,"labelLimit":400},
"line": {"strokeWidth":3.4,"interpolate":"monotone"},
"errorband": {"interpolate":"monotone","band":{"color":"#e0e0e0","opacity":1},"borders":{"color":"#a0a0a0","strokeWidth":1.2}}
}
}
